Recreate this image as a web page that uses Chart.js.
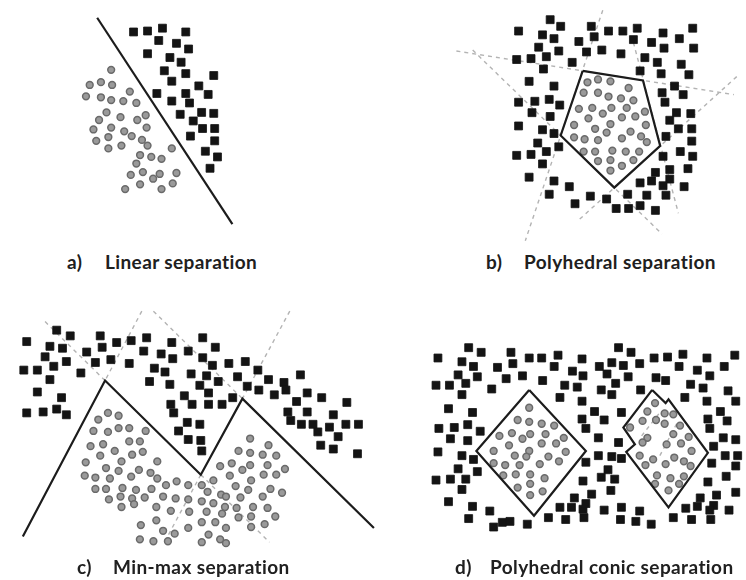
<!DOCTYPE html>
<html>
<head>
<meta charset="utf-8">
<script src="https://cdn.jsdelivr.net/npm/chart.js@4/dist/chart.umd.min.js"></script>
<style>
  html, body { margin: 0; padding: 0; background: #ffffff; }
  #stage { position: relative; width: 746px; height: 580px; overflow: hidden; background: #fff; }
  canvas { position: absolute; }
  .cap { position: absolute; font-family: Lato, "Open Sans", sans-serif; font-weight: 700;
         font-size: 19px; letter-spacing: 0.4px; line-height: 22px; color: #202020; white-space: nowrap; }
  .cap span { display: inline-block; }
</style>
</head>
<body>
<div id="stage">
  <canvas id="pa" style="left:60px;top:0px"></canvas>
  <canvas id="pb" style="left:450px;top:0px"></canvas>
  <canvas id="pc" style="left:0px;top:300px"></canvas>
  <canvas id="pd" style="left:420px;top:330px"></canvas>
  <div class="cap" style="left:67px;top:251px"><span style="width:38px">a)</span>Linear separation</div>
  <div class="cap" style="left:486px;top:251px"><span style="width:38px">b)</span>Polyhedral separation</div>
  <div class="cap" style="left:77px;top:556px"><span style="width:36px">c)</span>Min-max separation</div>
  <div class="cap" style="left:455px;top:556px"><span style="width:35px">d)</span>Polyhedral conic separation</div>
</div>
<script>
// ---- a) Linear separation ----
const aSquares = [[72,27],[87,26],[103,23],[128,27],[99,36],[118,39],[131,45],[87,50],[111,54],[123,59],[105,68],[128,71],[158,73],[113,79],[142,84],[97,92],[128,92],[152,93],[113,100],[132,102],[145,112],[158,113],[122,114],[136,121],[146,129],[159,129],[133,137],[159,142],[149,153],[162,159],[154,171]];
const aCircles = [[48,67],[25,83],[37,80],[49,83],[21,95],[37,96],[48,99],[61,100],[68,90],[75,102],[43,112],[35,120],[58,117],[85,115],[76,120],[29,130],[48,128],[62,132],[70,137],[86,128],[32,142],[45,138],[81,141],[45,150],[59,147],[87,147],[113,150],[79,157],[91,159],[102,161],[75,166],[69,178],[82,175],[93,182],[100,177],[118,176],[79,188],[63,193],[102,193],[114,187]];
const aBoundary = [[33,12],[178,230]];

// ---- b) Polyhedral separation ----
const bSquares = [[98,14],[109,21],[65,26],[90,30],[102,34],[141,21],[144,32],[159,26],[174,26],[189,23],[216,28],[247,23],[185,35],[204,38],[233,34],[217,44],[248,44],[128,37],[86,43],[107,47],[136,48],[152,46],[172,50],[63,56],[78,55],[94,53],[121,59],[197,54],[210,59],[235,61],[91,66],[192,68],[214,71],[243,72],[76,79],[102,84],[228,84],[215,91],[237,93],[218,101],[65,101],[82,100],[97,98],[108,104],[79,112],[98,116],[230,112],[245,113],[65,126],[90,130],[223,120],[232,129],[246,129],[102,134],[219,137],[246,142],[85,144],[107,148],[94,153],[63,157],[78,156],[234,153],[216,158],[247,158],[90,166],[208,175],[223,172],[242,171],[76,180],[102,184],[192,186],[204,184],[223,182],[216,189],[118,190],[238,190],[97,198],[140,200],[157,203],[179,198],[199,199],[219,199],[124,208],[167,213],[180,213],[192,210],[208,215]];
const bCircles = [[137,80],[148,77],[161,79],[180,86],[133,91],[148,91],[159,95],[172,97],[185,99],[128,108],[142,107],[153,113],[162,107],[178,107],[197,111],[138,118],[173,117],[187,116],[123,125],[145,129],[161,124],[198,125],[157,133],[182,132],[193,137],[123,138],[134,140],[148,141],[173,139],[199,143],[133,153],[145,153],[163,152],[177,153],[191,153],[148,163],[161,162],[185,162],[161,173],[173,168]];
const bPolygon = [[132,68],[195,78],[213,147],[165,191],[109,136],[132,68]];
const bHalfplanes = [
  [[0,47],[290,93]],
  [[185,38],[232,218]],
  [[293,74],[128,225]],
  [[17,46],[215,240]],
  [[153,4],[72,247]]
];

// ---- c) Min-max separation ----
const cSquares = [[52,25],[66,31],[21,37],[45,42],[58,44],[97,31],[99,43],[114,38],[129,36],[145,33],[171,38],[142,47],[83,48],[160,50],[172,55],[188,47],[40,53],[62,58],[49,63],[92,59],[108,56],[127,60],[18,67],[32,67],[77,70],[153,65],[164,69],[191,71],[45,77],[148,79],[169,82],[32,90],[57,96],[184,94],[170,103],[192,103],[173,112],[21,112],[38,111],[52,108],[62,114],[187,122],[178,131],[188,140],[203,33],[216,43],[203,54],[213,62],[230,60],[247,58],[260,67],[207,73],[219,79],[239,74],[271,77],[287,80],[304,72],[200,83],[209,91],[249,84],[261,88],[277,93],[289,88],[311,91],[326,96],[352,101],[209,103],[223,103],[234,96],[300,100],[291,111],[311,111],[338,114],[294,120],[305,124],[317,124],[322,132],[334,127],[351,124],[364,124],[343,137],[200,124],[201,141],[202,152],[325,146],[338,150],[363,155]];
const cCircles = [[105,112],[116,115],[95,119],[90,131],[105,132],[116,128],[127,128],[144,131],[87,147],[100,145],[112,152],[127,142],[138,142],[97,157],[130,156],[141,153],[82,164],[119,163],[156,163],[103,170],[116,173],[137,172],[149,175],[81,178],[92,180],[107,181],[129,179],[156,181],[165,188],[176,184],[188,188],[92,192],[103,192],[120,191],[134,193],[150,192],[106,203],[118,200],[130,202],[143,201],[162,200],[175,202],[188,203],[119,211],[132,208],[155,211],[170,215],[189,216],[155,225],[139,230],[162,236],[174,239],[188,233],[138,245],[152,247],[167,247],[252,139],[271,146],[240,152],[252,154],[265,156],[279,157],[233,165],[221,168],[252,167],[270,167],[244,172],[288,171],[231,178],[266,177],[279,177],[253,183],[214,183],[202,188],[237,189],[273,192],[250,193],[285,196],[208,195],[222,198],[227,200],[242,201],[265,200],[202,205],[214,207],[255,211],[226,211],[238,212],[270,212],[207,216],[223,218],[240,222],[253,221],[278,221],[202,227],[216,227],[227,233],[253,232],[267,229],[209,240],[221,245],[202,248],[227,249]];
const cMinMax = [[17,242],[102,78],[201,177],[244,97],[380,233]];
const cExtensions = [
  [[40,16],[102,78]],
  [[140,5],[102,78]],
  [[152,5],[244,97]],
  [[293,5],[244,97]],
  [[201,177],[272,248]],
  [[201,177],[165,245]]
];

// ---- d) Polyhedral conic separation ----
const dSquares = [[44,12],[57,17],[88,17],[12,23],[37,27],[49,32],[90,29],[107,23],[120,23],[137,20],[162,24],[74,33],[133,32],[152,37],[33,41],[53,43],[83,45],[100,42],[121,47],[163,42],[10,52],[24,52],[41,50],[68,56],[144,52],[157,54],[37,62],[139,65],[162,69],[23,77],[48,81],[162,88],[13,98],[29,97],[43,94],[56,101],[166,98],[25,109],[43,111],[12,123],[37,127],[49,131],[166,134],[33,141],[53,144],[10,153],[25,152],[41,152],[163,154],[37,163],[154,172],[23,176],[48,181],[66,186],[139,182],[151,182],[163,184],[44,194],[79,198],[87,197],[105,200],[127,193],[145,195],[70,203],[200,12],[213,17],[237,23],[251,22],[267,19],[292,23],[321,20],[180,32],[193,28],[205,31],[222,29],[263,32],[282,36],[310,32],[188,40],[210,43],[239,44],[249,47],[295,42],[197,50],[275,51],[288,55],[314,58],[182,57],[193,62],[223,57],[269,65],[292,69],[322,69],[175,80],[203,81],[185,89],[306,80],[293,88],[313,90],[295,98],[179,108],[200,113],[309,108],[322,110],[299,117],[179,127],[193,128],[203,130],[311,127],[324,127],[297,135],[189,142],[182,150],[196,152],[312,149],[322,138],[293,155],[192,164],[322,166],[172,168],[302,169],[285,172],[166,178],[203,182],[270,183],[282,181],[299,180],[295,185],[315,185],[185,185],[222,186],[164,193],[202,195],[218,197],[234,200],[257,193],[276,195],[296,195]];
const dCirclesLeft = [[107,76],[95,89],[107,91],[120,93],[133,95],[76,106],[89,103],[100,109],[108,104],[124,104],[143,108],[86,116],[120,114],[135,114],[70,122],[92,127],[107,122],[145,123],[70,135],[82,137],[97,137],[118,136],[127,128],[138,133],[80,148],[93,147],[108,147],[123,151],[95,161],[108,157],[108,169],[121,165],[104,128]];
const dCirclesRight = [[238,71],[230,80],[248,82],[257,83],[225,90],[239,89],[248,93],[212,97],[264,95],[230,108],[225,113],[257,104],[273,107],[250,115],[265,114],[222,127],[236,131],[276,122],[228,137],[249,136],[258,129],[268,133],[275,138],[240,148],[254,151],[268,149],[238,157],[263,157],[252,164]];
const dConeLeft = [[107,57],[166,122],[112,191],[52,122],[107,57]];
const dConeRight = [[235,57],[249,71],[252,67],[293,124],[252,182],[208,123],[217,115],[205,97],[235,57]];
const dInnerCuts = [
  [[224,106],[243,81]],
  [[243,127],[261,92]]
];

// ---- dataset styles ----
const pts = arr => arr.map(([x, y]) => ({ x, y }));
const squares = arr => ({ data: pts(arr), pointStyle: 'rect', pointRadius: 5.6, backgroundColor: '#141414', borderColor: '#141414', borderWidth: 0.8, order: 1, clip: false });
const circles = arr => ({ data: pts(arr), pointStyle: 'circle', pointRadius: 3.4, backgroundColor: '#9a9a9a', borderColor: '#6a6a6a', borderWidth: 1.5, order: 2, clip: false });
const solid = arr => ({ data: pts(arr), showLine: true, pointRadius: 0, borderColor: '#1c1c1c', borderWidth: 2.2, fill: false, tension: 0, order: 0, clip: false });
const dashed = arr => ({ data: pts(arr), showLine: true, pointRadius: 0, borderColor: '#b3b3b3', borderWidth: 1.4, borderDash: [4, 4], fill: false, tension: 0, order: 3, clip: false });

function panel(id, w, h, datasets) {
  const cv = document.getElementById(id);
  cv.width = w; cv.height = h;
  cv.style.width = w + 'px'; cv.style.height = h + 'px';
  new Chart(cv, {
    type: 'scatter',
    data: { datasets },
    options: {
      responsive: false,
      animation: false,
      devicePixelRatio: 1,
      events: [],
      layout: { padding: 0 },
      plugins: { legend: { display: false }, tooltip: { enabled: false } },
      scales: {
        x: { type: 'linear', min: 0, max: w, display: false },
        y: { type: 'linear', min: 0, max: h, reverse: true, display: false }
      }
    }
  });
}

panel('pa', 190, 240, [solid(aBoundary), squares(aSquares), circles(aCircles)]);
panel('pb', 296, 250, [solid(bPolygon), squares(bSquares), circles(bCircles), ...bHalfplanes.map(dashed)]);
panel('pc', 390, 260, [solid(cMinMax), squares(cSquares), circles(cCircles), ...cExtensions.map(dashed)]);
panel('pd', 326, 210, [solid(dConeLeft), solid(dConeRight), squares(dSquares), circles(dCirclesLeft), circles(dCirclesRight), ...dInnerCuts.map(dashed)]);
</script>
</body>
</html>
